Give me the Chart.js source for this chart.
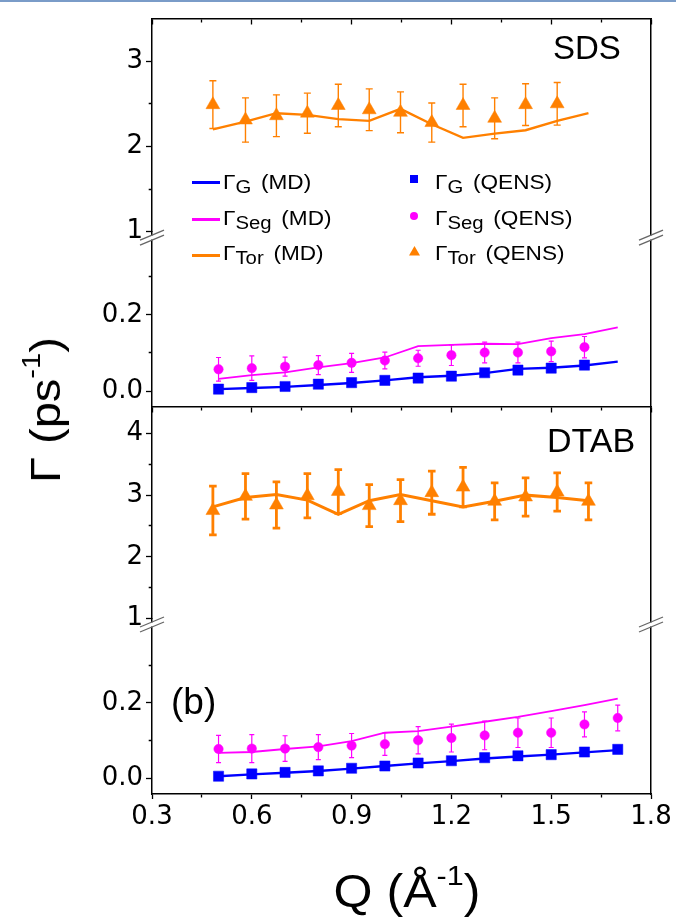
<!DOCTYPE html>
<html><head><meta charset="utf-8">
<script src="https://cdn.jsdelivr.net/npm/chart.js@4.4.0/dist/chart.umd.min.js"></script>
<style>
html,body{margin:0;padding:0;background:#fff;}
#wrap{position:relative;width:676px;height:919px;overflow:hidden;font-family:'Liberation Sans',Arial,sans-serif;color:#000;}
#c{position:absolute;left:0;top:0;}
.t{position:absolute;line-height:1;white-space:nowrap;}
.lg{font-size:20px;transform:scaleX(1.13);transform-origin:0 0;}
.sub{font-size:18px;position:relative;top:4px;}
.par{margin-left:3px;}
.sup{position:relative;}
#topline{position:absolute;left:0;top:0;width:676px;height:2px;background:#7a9cc8;}
</style></head><body>
<div id="wrap">
<canvas id="c" width="676" height="919"></canvas>
<div id="topline"></div>
<div class="t" style="left:553px;top:31px;font-size:33px;">SDS</div>
<div class="t" style="left:547px;top:423px;font-size:34px;">DTAB</div>
<div class="t" style="left:171px;top:683px;font-size:37px;">(b)</div>
<div class="t" style="left:407px;top:868px;font-size:46px;transform:translateX(-50%) scaleX(1.09);">Q (Å<span class="sup" style="font-size:28px;top:-22px;">-1</span>)</div>
<div class="t" style="left:46px;top:410px;font-size:42px;transform:translate(-50%,-50%) rotate(-90deg) scaleX(1.12);">Γ (ps<span class="sup" style="font-size:26px;top:-20px;">-1</span>)</div>
<!-- legend -->
<div style="position:absolute;left:192px;top:181px;width:28px;height:3px;background:#0000ff;"></div>
<div style="position:absolute;left:192px;top:218px;width:28px;height:3px;background:#ff00ff;"></div>
<div style="position:absolute;left:192px;top:254px;width:28px;height:3px;background:#ff8000;"></div>
<div class="t lg" style="left:223px;top:172px;">Γ<span class="sub">G</span> <span class="par">(MD)</span></div>
<div class="t lg" style="left:223px;top:208px;">Γ<span class="sub">Seg</span> <span class="par">(MD)</span></div>
<div class="t lg" style="left:223px;top:243px;">Γ<span class="sub">Tor</span> <span class="par">(MD)</span></div>
<div style="position:absolute;left:410px;top:175px;width:8px;height:8px;background:#0000ff;"></div>
<div style="position:absolute;left:410px;top:212px;width:8px;height:8px;border-radius:50%;background:#ff00ff;"></div>
<svg style="position:absolute;left:409px;top:246px;" width="11" height="10"><polygon points="5.5,0 11,9.5 0,9.5" fill="#ff8000"/></svg>
<div class="t lg" style="left:435px;top:172px;">Γ<span class="sub">G</span> <span class="par">(QENS)</span></div>
<div class="t lg" style="left:435px;top:208px;">Γ<span class="sub">Seg</span> <span class="par">(QENS)</span></div>
<div class="t lg" style="left:435px;top:243px;">Γ<span class="sub">Tor</span> <span class="par">(QENS)</span></div>
</div>
<script>
// ---------- data ----------
const qTor = [0.483, 0.581, 0.674, 0.767, 0.860, 0.953, 1.047, 1.141, 1.235, 1.330, 1.423, 1.518, 1.612];
const qG = [0.5, 0.6, 0.7, 0.8, 0.9, 1.0, 1.1, 1.2, 1.3, 1.4, 1.5, 1.6, 1.7];

// SDS
const sdsTorMD = [2.20, 2.29, 2.39, 2.37, 2.32, 2.30, 2.44, 2.26, 2.10, 2.15, 2.19, 2.30, 2.39];
const sdsTorQ = [2.49, 2.31, 2.36, 2.39, 2.48, 2.43, 2.40, 2.28, 2.48, 2.33, 2.49, 2.50];
const sdsTorErr = [0.28, 0.26, 0.245, 0.235, 0.25, 0.245, 0.24, 0.23, 0.25, 0.24, 0.245, 0.25];
const sdsSegMD = [0.032, 0.042, 0.049, 0.062, 0.073, 0.088, 0.118, 0.121, 0.124, 0.123, 0.139, 0.149, 0.167];
const sdsSegQ = [0.057, 0.060, 0.064, 0.068, 0.074, 0.080, 0.086, 0.094, 0.101, 0.101, 0.104, 0.115];
const sdsSegErr = [0.031, 0.032, 0.025, 0.025, 0.025, 0.022, 0.021, 0.027, 0.027, 0.027, 0.027, 0.028];
const sdsGMD = [0.005, 0.008, 0.011, 0.016, 0.021, 0.028, 0.036, 0.040, 0.047, 0.058, 0.061, 0.067, 0.077];
const sdsGQ = [0.005, 0.009, 0.012, 0.018, 0.022, 0.028, 0.034, 0.039, 0.048, 0.055, 0.060, 0.068];

// DTAB
const dtabTorMD = [2.81, 2.96, 3.01, 2.92, 2.69, 2.91, 3.01, 2.91, 2.81, 2.90, 3.00, 2.96, 2.91];
const dtabTorQ = [2.75, 2.98, 2.84, 2.99, 3.06, 2.83, 2.91, 3.04, 3.13, 2.90, 2.97, 3.05, 2.90];
const dtabTorErr = [0.395, 0.37, 0.375, 0.36, 0.355, 0.34, 0.34, 0.35, 0.32, 0.30, 0.31, 0.31, 0.30];
const dtabSegMD = [0.068, 0.070, 0.078, 0.085, 0.099, 0.121, 0.125, 0.137, 0.150, 0.163, 0.178, 0.194, 0.211];
const dtabSegQ = [0.078, 0.079, 0.079, 0.083, 0.087, 0.091, 0.101, 0.107, 0.114, 0.121, 0.121, 0.143, 0.160];
const dtabSegErr = [0.036, 0.037, 0.034, 0.033, 0.032, 0.030, 0.036, 0.037, 0.038, 0.039, 0.039, 0.033, 0.034];
const dtabGMD = [0.006, 0.011, 0.015, 0.020, 0.026, 0.033, 0.040, 0.046, 0.053, 0.058, 0.063, 0.069, 0.075];
const dtabGQ = [0.006, 0.012, 0.016, 0.020, 0.027, 0.033, 0.041, 0.047, 0.055, 0.060, 0.063, 0.070, 0.077];

// ticks
const xMajor = [0.3, 0.6, 0.9, 1.2, 1.5, 1.8];
const xLabels = ['0.3', '0.6', '0.9', '1.2', '1.5', '1.8'];
const xMinor = [0.45, 0.75, 1.05, 1.35, 1.65];
const upSdsMajor = [1, 2, 3], upSdsLabels = ['1', '2', '3'], upSdsMinor = [1.5, 2.5];
const upDtabMajor = [1, 2, 3, 4], upDtabLabels = ['1', '2', '3', '4'], upDtabMinor = [1.5, 2.5, 3.5];
const lowMajor = [0.0, 0.2], lowLabels = ['0.0', '0.2'], lowMinor = [0.1, 0.3];

// ---------- helpers ----------
const FONT = "'Liberation Sans', Arial, sans-serif";
const TICKFONT = "'DejaVu Sans', 'Liberation Sans', sans-serif";
const ORANGE = '#ff8000', MAG = '#ff00ff', BLUE = '#0000ff';
const isIn = (arr, v) => arr.some(a => Math.abs(a - v) < 1e-9);
const tickSet = (major, minor) => major.concat(minor).sort((a, b) => a - b).map(v => ({value: v}));
const pts = (xs, ys) => ys.map((y, i) => ({x: xs[i], y}));
const errPts = (xs, ys, es) => {
  const out = [];
  ys.forEach((y, i) => { out.push({x: xs[i], y: y - es[i]}, {x: xs[i], y: y + es[i]}, {x: xs[i], y: null}); });
  return out;
};

function yScale(weight, min, max, major, minor, labels) {
  return {
    type: 'linear', position: 'left', stack: 'panels', stackWeight: weight, min, max,
    afterBuildTicks: s => { s.ticks = tickSet(major, minor); },
    afterFit: s => { s.width = 152; },
    ticks: {
      autoSkip: false, padding: 3, color: '#000', font: {family: TICKFONT, size: 26},
      callback: v => { const i = major.findIndex(m => Math.abs(m - v) < 1e-9); return i >= 0 ? labels[i] : ''; }
    },
    grid: {
      drawOnChartArea: false, drawTicks: true, tickLength: 6, tickWidth: 1.3, tickColor: '#000',
      tickBorderDash: ctx => (ctx.tick && !isIn(major, ctx.tick.value)) ? [0, 2.7, 3.3, 20] : []
    },
    border: {display: true, color: '#000', width: 1.5}
  };
}
function xScale(extra) {
  return Object.assign({
    type: 'linear', axis: 'x', min: 0.3, max: 1.8,
    afterBuildTicks: s => { s.ticks = tickSet(xMajor, xMinor); },
    ticks: {display: false, autoSkip: false},
    grid: {
      drawOnChartArea: false, drawTicks: true, tickLength: 5, tickWidth: 1.3, tickColor: '#000',
      tickBorderDash: ctx => (ctx.tick && !isIn(xMajor, ctx.tick.value)) ? [3, 20] : []
    },
    border: {display: true, color: '#000', width: 1.5}
  }, extra);
}
function markers(label, yID, xs, ys, style, color, r) {
  return {label, yAxisID: yID, xAxisID: 'x', data: pts(xs, ys), showLine: false,
    pointStyle: style, pointRadius: r, pointHoverRadius: r,
    pointBackgroundColor: color, pointBorderColor: color, pointBorderWidth: 0.5};
}
function mdLine(label, yID, xs, ys, color, w) {
  return {label, yAxisID: yID, xAxisID: 'x', data: pts(xs, ys), showLine: true,
    borderColor: color, borderWidth: w, pointRadius: 0, tension: 0, fill: false};
}
function errBars(label, yID, xs, ys, es, color, w, cap) {
  return {label, yAxisID: yID, xAxisID: 'x', data: errPts(xs, ys, es), showLine: true, spanGaps: false,
    borderColor: color, borderWidth: w, pointStyle: 'line', pointRadius: cap, pointHoverRadius: cap,
    pointBorderColor: color, pointBorderWidth: w, fill: false};
}

const breakPlugin = {
  id: 'axisBreaks',
  afterDraw(chart) {
    const ctx = chart.ctx, ca = chart.chartArea;
    ['yA', 'yC'].forEach(id => {
      const yb = chart.scales[id].bottom + 6;
      [ca.left, ca.right].forEach(xc => {
        ctx.save();
        ctx.fillStyle = '#fff';
        ctx.fillRect(xc - 2, yb - 2, 4, 4);
        ctx.strokeStyle = '#666';
        ctx.lineWidth = 1.3;
        [-2.5, 2.5].forEach(o => {
          ctx.beginPath();
          ctx.moveTo(xc - 12, yb + o + 5);
          ctx.lineTo(xc + 12, yb + o - 5);
          ctx.stroke();
        });
        ctx.restore();
      });
    });
  }
};

const datasets = [
  // markers
  markers('ΓG (QENS) SDS', 'yB', qG, sdsGQ, 'rect', BLUE, 7.2),
  markers('ΓSeg (QENS) SDS', 'yB', qG, sdsSegQ, 'circle', MAG, 4.7),
  markers('ΓTor (QENS) SDS', 'yA', qTor, sdsTorQ, 'triangle', ORANGE, 8),
  markers('ΓG (QENS) DTAB', 'yD', qG, dtabGQ, 'rect', BLUE, 7.2),
  markers('ΓSeg (QENS) DTAB', 'yD', qG, dtabSegQ, 'circle', MAG, 4.7),
  markers('ΓTor (QENS) DTAB', 'yC', qTor, dtabTorQ, 'triangle', ORANGE, 8),
  // error bars
  errBars('SDS Seg err', 'yB', qG, sdsSegQ, sdsSegErr, MAG, 1.2, 2.5),
  errBars('SDS Tor err', 'yA', qTor, sdsTorQ, sdsTorErr, ORANGE, 1.4, 3.5),
  errBars('DTAB Seg err', 'yD', qG, dtabSegQ, dtabSegErr, MAG, 1.2, 2.5),
  errBars('DTAB Tor err', 'yC', qTor, dtabTorQ, dtabTorErr, ORANGE, 2.8, 3.8),
  // MD lines
  mdLine('ΓG (MD) SDS', 'yB', qG, sdsGMD, BLUE, 2.4),
  mdLine('ΓSeg (MD) SDS', 'yB', qG, sdsSegMD, MAG, 1.8),
  mdLine('ΓTor (MD) SDS', 'yA', qTor, sdsTorMD, ORANGE, 2.4),
  mdLine('ΓG (MD) DTAB', 'yD', qG, dtabGMD, BLUE, 2.4),
  mdLine('ΓSeg (MD) DTAB', 'yD', qG, dtabSegMD, MAG, 1.8),
  mdLine('ΓTor (MD) DTAB', 'yC', qTor, dtabTorMD, ORANGE, 3)
];

new Chart(document.getElementById('c'), {
  type: 'line',
  data: {datasets},
  options: {
    responsive: false, animation: false, devicePixelRatio: 1,
    layout: {padding: {left: 0, right: 25, top: 15, bottom: 0}},
    plugins: {legend: {display: false}, tooltip: {enabled: false}},
    scales: {
      x: xScale({
        position: 'bottom',
        afterFit: s => { s.height = 125; },
        ticks: {display: true, autoSkip: false, maxRotation: 0, padding: 3, color: '#000', font: {family: TICKFONT, size: 26},
          callback: v => { const i = xMajor.findIndex(m => Math.abs(m - v) < 1e-9); return i >= 0 ? xLabels[i] : ''; }}
      }),
      xTop: xScale({position: {yA: 3.5}}),
      xMid: xScale({position: {yC: 4.44}}),
      yD: yScale(176.3, -0.041, 0.423, lowMajor, lowMinor, lowLabels),
      yC: yScale(213.2, 1, 4.44, upDtabMajor, upDtabMinor, upDtabLabels),
      yB: yScale(175.5, -0.04, 0.418, lowMajor, lowMinor, lowLabels),
      yA: yScale(214, 1, 3.5, upSdsMajor, upSdsMinor, upSdsLabels),
      yR: {
        type: 'linear', position: 'right', min: 0, max: 1,
        ticks: {display: false}, grid: {drawOnChartArea: false, drawTicks: false},
        border: {display: true, color: '#000', width: 1.5},
        afterFit: s => { s.width = 0; }
      }
    }
  },
  plugins: [breakPlugin]
});
</script>
</body></html>
